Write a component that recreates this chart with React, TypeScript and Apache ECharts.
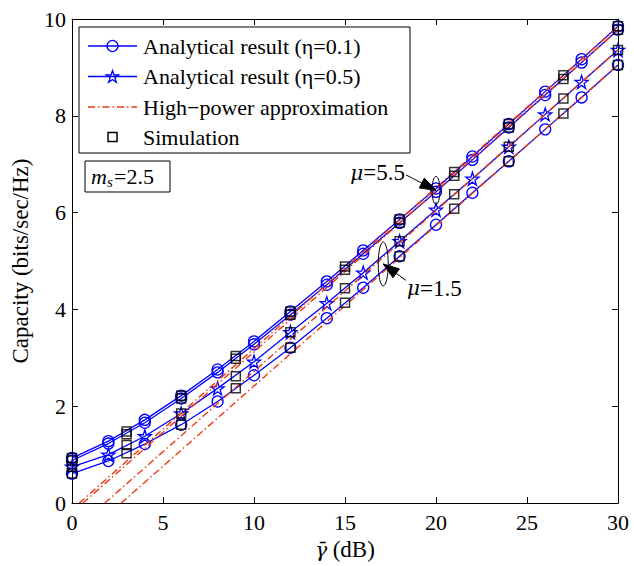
import React, { useEffect, useRef } from "react";
import * as echarts from "echarts";

// ---------- data ----------
const xAnalytic = [0, 2, 4, 6, 8, 10, 12, 14, 16, 18, 20, 22, 24, 26, 28, 30];
// mu = 5.5 pair (circles, nearly coincident)
const mu55CircleA = [0.93, 1.28, 1.72, 2.22, 2.76, 3.34, 3.96, 4.58, 5.22, 5.86, 6.5, 7.16, 7.83, 8.5, 9.17, 9.85];
const mu55CircleB = [0.88, 1.23, 1.66, 2.16, 2.7, 3.28, 3.89, 4.51, 5.15, 5.79, 6.43, 7.09, 7.76, 8.43, 9.1, 9.78];
// mu = 1.5, eta = 0.5 (stars)
const mu15Star = [0.75, 1.0, 1.38, 1.85, 2.37, 2.92, 3.53, 4.13, 4.76, 5.41, 6.06, 6.7, 7.36, 8.03, 8.7, 9.36];
// mu = 1.5, eta = 0.1 (circles)
const mu15Circle = [0.61, 0.87, 1.22, 1.62, 2.1, 2.64, 3.21, 3.82, 4.45, 5.1, 5.75, 6.41, 7.06, 7.72, 8.38, 9.05];

const xSim = [0, 3, 6, 9, 12, 15, 18, 21, 24, 27, 30];
const simA = [0.93, 1.48, 2.22, 3.04, 3.96, 4.89, 5.86, 6.84, 7.83, 8.84, 9.85];
const simB = [0.88, 1.42, 2.16, 2.98, 3.89, 4.82, 5.79, 6.76, 7.76, 8.76, 9.78];
const simC = [0.75, 1.2, 1.85, 2.62, 3.53, 4.44, 5.41, 6.38, 7.36, 8.36, 9.36];
const simD = [0.61, 1.03, 1.62, 2.37, 3.21, 4.14, 5.1, 6.08, 7.06, 8.05, 9.05];

// high-power approximation lines: endpoints
const hpX = [[0.4, 30], [0.6, 30], [1.8, 30], [2.7, 30]];
const hpY = [[0, 9.84], [0, 9.77], [0, 9.36], [0, 9.05]];

const xTicks = [0, 5, 10, 15, 20, 25, 30];
const yTicks = [0, 2, 4, 6, 8, 10];

const legendNames = [
  "Analytical result (η=0.1)",
  "Analytical result (η=0.5)",
  "High−power approximation",
  "Simulation",
];

// annotation anchors (data coords)
const ann55 = { ex: 20, ey: 6.46, tailX: 18.35, tailY: 6.78, value: "5.5" };
const ann15 = { ex: 17.1, ey: 4.94, tailX: 18.35, tailY: 4.6, value: "1.5" };

const FONT = '"Liberation Serif", "Times New Roman", serif';
const BLUE = "#0000ff";
const RED = "#ee3a14";
const STAR = "path://M100,0 L122.45,69.1 L195.1,69.1 L136.33,111.8 L158.78,180.9 L100,138.2 L41.22,180.9 L63.67,111.8 L4.9,69.1 L77.55,69.1 Z";
const HP_DASH = [7, 3, 1.5, 3];

function zip(xs: number[], ys: number[]) {
  return xs.map((x, i) => [x, ys[i]]);
}

function starPoints(cx: number, cy: number, R: number) {
  const pts: number[][] = [];
  for (let k = 0; k < 10; k++) {
    const a = (-90 + k * 36) * Math.PI / 180;
    const r = k % 2 === 0 ? R : R * 0.382;
    pts.push([cx + r * Math.cos(a), cy + r * Math.sin(a)]);
  }
  return pts;
}

function arrowHead(tip: number[], tail: number[], len: number, half: number) {
  const dx = tip[0] - tail[0], dy = tip[1] - tail[1];
  const L = Math.hypot(dx, dy);
  const ux = dx / L, uy = dy / L;
  const bx = tip[0] - ux * len, by = tip[1] - uy * len;
  return [tip, [bx - uy * half, by + ux * half], [bx + uy * half, by - ux * half]];
}

export default function App() {
  const ref = useRef<HTMLDivElement>(null);
  useEffect(() => {
    if (!ref.current) return;
    const chart = echarts.init(ref.current, null, { renderer: "svg" });

    const analyticSeries = (name: string, ys: number[], star: boolean) => ({
      type: "line",
      name,
      data: zip(xAnalytic, ys),
      symbol: star ? STAR : "circle",
      symbolSize: star ? 13 : 11,
      showSymbol: true,
      lineStyle: { color: BLUE, width: 1.3 },
      itemStyle: { color: "rgba(0,0,0,0)", borderColor: BLUE, borderWidth: 1.3 },
      z: 3,
      silent: true,
    });

    const simSeries = (ys: number[]) => ({
      type: "scatter",
      name: legendNames[3],
      data: zip(xSim, ys),
      symbol: "rect",
      symbolSize: 9,
      itemStyle: { color: "rgba(0,0,0,0)", borderColor: "#000", borderWidth: 1.5 },
      z: 5,
      silent: true,
    });

    const hpSeries = hpX.map((xs, i) => ({
      type: "line",
      name: legendNames[2],
      data: zip(xs, hpY[i]),
      symbol: "none",
      lineStyle: { color: RED, width: 1.4, type: HP_DASH },
      z: 4,
      silent: true,
    }));

    const axisCommon = {
      type: "value",
      axisLine: { show: true, onZero: false, lineStyle: { color: "#000", width: 1 } },
      axisTick: { show: true, inside: true, length: 6, lineStyle: { color: "#000" } },
      splitLine: { show: false },
    };

    chart.setOption({
      animation: false,
      backgroundColor: "#fff",
      textStyle: { fontFamily: FONT },
      grid: { left: 72, top: 19, right: 16, bottom: 61, containLabel: false },
      xAxis: [
        {
          ...axisCommon,
          min: 0, max: 30, interval: 5,
          position: "bottom",
          name: "{g|γ̄} {r|(dB)}",
          nameLocation: "middle",
          nameGap: 31,
          nameTextStyle: {
            fontFamily: FONT, fontSize: 22, color: "#000", verticalAlign: "top",
            rich: {
              g: { fontFamily: '"DejaVu Serif", serif', fontStyle: "italic", fontSize: 20, color: "#000" },
              r: { fontFamily: FONT, fontSize: 23, color: "#000" },
            },
          },
          axisLabel: { color: "#000", fontFamily: FONT, fontSize: 22, margin: 8,
            formatter: (v: number) => (xTicks.includes(v) ? String(v) : "") },
        },
        {
          ...axisCommon,
          min: 0, max: 30, interval: 5,
          position: "top",
          axisLabel: { show: false },
        },
      ],
      yAxis: [
        {
          ...axisCommon,
          min: 0, max: 10, interval: 2,
          position: "left",
          name: "Capacity (bits/sec/Hz)",
          nameLocation: "middle",
          nameGap: 40,
          nameTextStyle: { fontFamily: FONT, fontSize: 23, color: "#000" },
          axisLabel: { color: "#000", fontFamily: FONT, fontSize: 22, margin: 6,
            formatter: (v: number) => (yTicks.includes(v) ? String(v) : "") },
        },
        {
          ...axisCommon,
          min: 0, max: 10, interval: 2,
          position: "right",
          axisLabel: { show: false },
        },
      ],
      series: [
        ...hpSeries,
        analyticSeries(legendNames[0], mu55CircleA, false),
        analyticSeries(legendNames[0], mu55CircleB, false),
        analyticSeries(legendNames[1], mu15Star, true),
        analyticSeries(legendNames[0], mu15Circle, false),
        simSeries(simA),
        simSeries(simB),
        simSeries(simC),
        simSeries(simD),
      ],
    });

    // ---------- graphic: legend, m_s box, annotations ----------
    const lx = 79, ly = 27, lw = 331, lh = 126;
    const rows = [46, 76.5, 107, 137];
    const lineX0 = 88, lineX1 = 137, markX = 112.5, textX = 143;
    const legendEls: any[] = [
      { type: "rect", shape: { x: lx, y: ly, width: lw, height: lh },
        style: { fill: "#fff", stroke: "#000", lineWidth: 1 }, z: 10 },
      { type: "line", shape: { x1: lineX0, y1: rows[0], x2: lineX1, y2: rows[0] }, style: { stroke: BLUE, lineWidth: 1.3 }, z: 11 },
      { type: "circle", shape: { cx: markX, cy: rows[0], r: 5.5 }, style: { fill: "none", stroke: BLUE, lineWidth: 1.3 }, z: 11 },
      { type: "line", shape: { x1: lineX0, y1: rows[1], x2: lineX1, y2: rows[1] }, style: { stroke: BLUE, lineWidth: 1.3 }, z: 11 },
      { type: "polygon", shape: { points: starPoints(markX, rows[1] + 0.5, 6.5) }, style: { fill: "none", stroke: BLUE, lineWidth: 1.3 }, z: 11 },
      { type: "line", shape: { x1: lineX0, y1: rows[2], x2: lineX1, y2: rows[2] }, style: { stroke: RED, lineWidth: 1.4, lineDash: HP_DASH }, z: 11 },
      { type: "rect", shape: { x: markX - 4.5, y: rows[3] - 4.5, width: 9, height: 9 }, style: { fill: "none", stroke: "#000", lineWidth: 1.5 }, z: 11 },
    ];
    legendNames.forEach((n, i) => {
      legendEls.push({ type: "text", x: textX, y: rows[i], z: 11,
        style: { text: n, fill: "#000", font: `22px ${FONT}`, verticalAlign: "middle", textAlign: "left" } });
    });

    // m_s box
    const msEls: any[] = [
      { type: "rect", shape: { x: 85, y: 161, width: 85, height: 31 }, style: { fill: "#fff", stroke: "#000", lineWidth: 1 }, z: 10 },
      { type: "text", x: 91, y: 176, z: 11, style: { text: "m", fill: "#000", font: `italic 22px ${FONT}`, verticalAlign: "middle" } },
      { type: "text", x: 107, y: 182, z: 11, style: { text: "s", fill: "#000", font: `italic 15px ${FONT}`, verticalAlign: "middle" } },
      { type: "text", x: 114, y: 176, z: 11, style: { text: "=2.5", fill: "#000", font: `22px ${FONT}`, verticalAlign: "middle" } },
    ];

    const annEls: any[] = [];
    const addAnn = (a: any, ry: number, rx: number, labelRight: boolean) => {
      const c = chart.convertToPixel({ gridIndex: 0 }, [a.ex, a.ey]) as number[];
      const t = chart.convertToPixel({ gridIndex: 0 }, [a.tailX, a.tailY]) as number[];
      annEls.push({ type: "ellipse", shape: { cx: c[0], cy: c[1], rx, ry }, style: { fill: "none", stroke: "#000", lineWidth: 1 }, z: 12 });
      annEls.push({ type: "line", shape: { x1: t[0], y1: t[1], x2: c[0], y2: c[1] }, style: { stroke: "#000", lineWidth: 1 }, z: 12 });
      annEls.push({ type: "polygon", shape: { points: arrowHead(c, t, 16, 5.5) }, style: { fill: "#000", stroke: "#000", lineWidth: 1 }, z: 12 });
      const rich = {
        m: { fontFamily: '"DejaVu Serif", serif', fontStyle: "italic", fontSize: 20, fill: "#000" },
        n: { fontFamily: FONT, fontSize: 23, fill: "#000" },
      };
      const txt = `{m|μ}{n|=${a.value}}`;
      if (labelRight) {
        annEls.push({ type: "text", x: t[0] + 1, y: t[1] + 8, z: 12,
          style: { text: txt, rich, fill: "#000", verticalAlign: "middle", textAlign: "left" } });
      } else {
        annEls.push({ type: "text", x: t[0] - 1, y: t[1] - 2, z: 12,
          style: { text: txt, rich, fill: "#000", verticalAlign: "middle", textAlign: "right" } });
      }
    };
    addAnn(ann55, 14, 4, false);
    addAnn(ann15, 22, 5, true);

    chart.setOption({ graphic: { elements: [...legendEls, ...msEls, ...annEls] } });

    return () => chart.dispose();
  }, []);

  return <div ref={ref} style={{ width: 634, height: 566, position: "absolute", left: 0, top: 0 }} />;
}
